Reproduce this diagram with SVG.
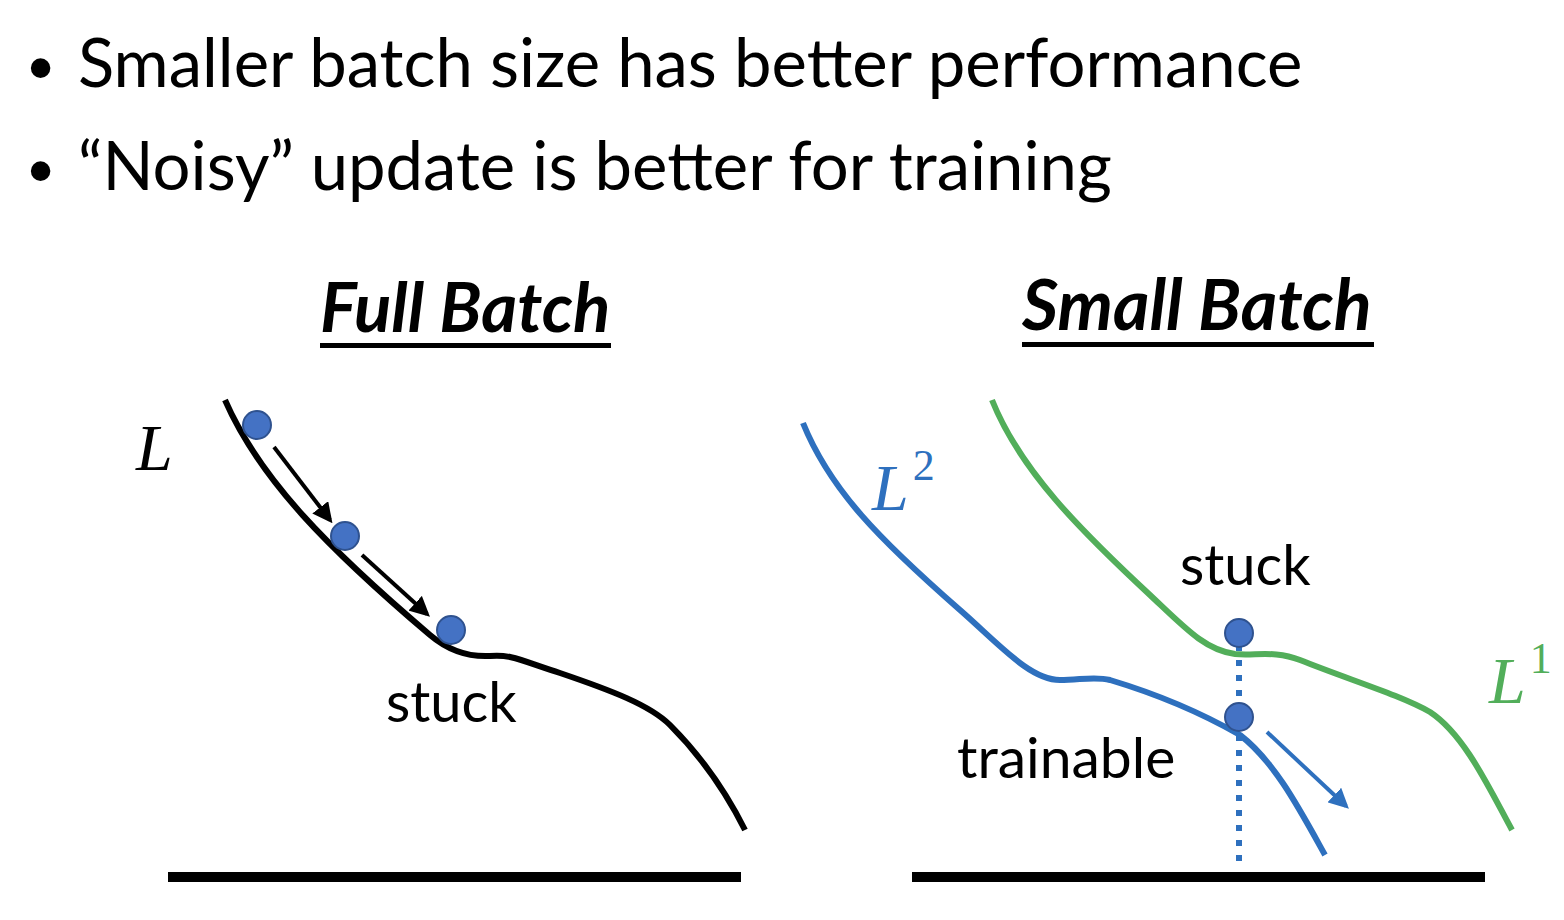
<svg xmlns="http://www.w3.org/2000/svg" width="1564" height="920" viewBox="0 0 1564 920">
<defs>
<style>
.t{font-family:Lato,"Open Sans",sans-serif;fill:#000}
.big{font-size:67px}
.bul{font-family:"Liberation Sans",Arial,sans-serif;font-size:72px;fill:#000}
.title{font-size:69px;font-weight:bold;font-style:italic}
.lab{font-size:56px}
.math{font-family:"Liberation Serif",serif;font-style:italic;font-size:66px}
.dot{fill:#4472C4;stroke:#2F528F;stroke-width:2}
</style>
<marker id="ak" viewBox="0 0 10 10" refX="8" refY="5" markerWidth="5" markerHeight="5" orient="auto" markerUnits="strokeWidth"><path d="M0,0 L10,5 L0,10 z" fill="#000"/></marker>
<marker id="ab" viewBox="0 0 10 10" refX="8" refY="5" markerWidth="5" markerHeight="5" orient="auto" markerUnits="strokeWidth"><path d="M0,0 L10,5 L0,10 z" fill="#2E70BE"/></marker>
</defs>
<rect width="1564" height="920" fill="#fff"/>
<g id="bullets">
<text class="bul" x="28" y="92">•</text>
<text class="t big" x="78" y="87">Smaller batch size has better performance</text>
<text class="bul" x="28" y="195">•</text>
<text class="t big" x="78" y="190">“Noisy” update is better for training</text>
</g>
<g id="title-full">
<text class="t title" x="320" y="332">Full Batch</text>
<rect x="320" y="343" width="291" height="5" fill="#000"/>
</g>
<g id="title-small">
<text class="t title" x="1022" y="330" style="font-size:70px">Small Batch</text>
<rect x="1022" y="342" width="352" height="5" fill="#000"/>
</g>
<g id="full-curve">
<path d="M225,400 C260,480 330,550 430,635 C450,652 470,657 490,656 C510,654 520,660 560,673 C610,690 650,705 670,725 C700,755 725,790 745,830" fill="none" stroke="#000" stroke-width="6"/>
<text class="math" x="136" y="470">L</text>
</g>
<g id="full-dots">
<circle class="dot" cx="257" cy="425" r="14"/>
<circle class="dot" cx="345" cy="536" r="14"/>
<circle class="dot" cx="451" cy="630" r="14"/>
</g>
<g id="full-label">
<text class="t lab" x="386" y="722">stuck</text>
</g>
<g id="small-l2">
<path d="M803,423 C830,490 880,540 960,610 C1000,645 1030,680 1060,680 C1080,680 1095,676 1110,680 C1160,695 1205,715 1240,735 C1275,762 1300,810 1325,855" fill="none" stroke="#2E70BE" stroke-width="6"/>
<text class="math" x="872" y="510" style="fill:#2E70BE">L<tspan font-size="44" dy="-30" font-style="normal" dx="4">2</tspan></text>
</g>
<g id="small-l1">
<path d="M992,400 C1020,470 1080,530 1150,595 C1185,628 1205,650 1235,654 C1255,656 1275,650 1300,660 C1350,680 1400,695 1430,712 C1465,735 1490,790 1512,830" fill="none" stroke="#52AE5A" stroke-width="6"/>
<text class="math" x="1489" y="703" style="fill:#52AE5A">L<tspan font-size="44" dy="-30" font-style="normal" dx="4">1</tspan></text>
</g>
<g id="connectors">
<line x1="274" y1="447" x2="330" y2="520" stroke="#000" stroke-width="4" marker-end="url(#ak)"/>
<line x1="362" y1="555" x2="427" y2="614" stroke="#000" stroke-width="4" marker-end="url(#ak)"/>
<line x1="1239" y1="645" x2="1239" y2="870" stroke="#2E70BE" stroke-width="6" stroke-dasharray="6,9"/>
<line x1="1267" y1="732" x2="1346" y2="806" stroke="#2E70BE" stroke-width="4" marker-end="url(#ab)"/>
</g>
<g id="small-dots">
<circle class="dot" cx="1239" cy="633" r="14"/>
<circle class="dot" cx="1239" cy="717" r="14"/>
</g>
<g id="small-labels">
<text class="t lab" x="1180" y="585">stuck</text>
<text class="t lab" x="957" y="778" style="font-size:57px">trainable</text>
</g>
<g id="axes">
<rect x="168" y="872" width="573" height="10" fill="#000"/>
<rect x="912" y="872" width="573" height="10" fill="#000"/>
</g>
</svg>
